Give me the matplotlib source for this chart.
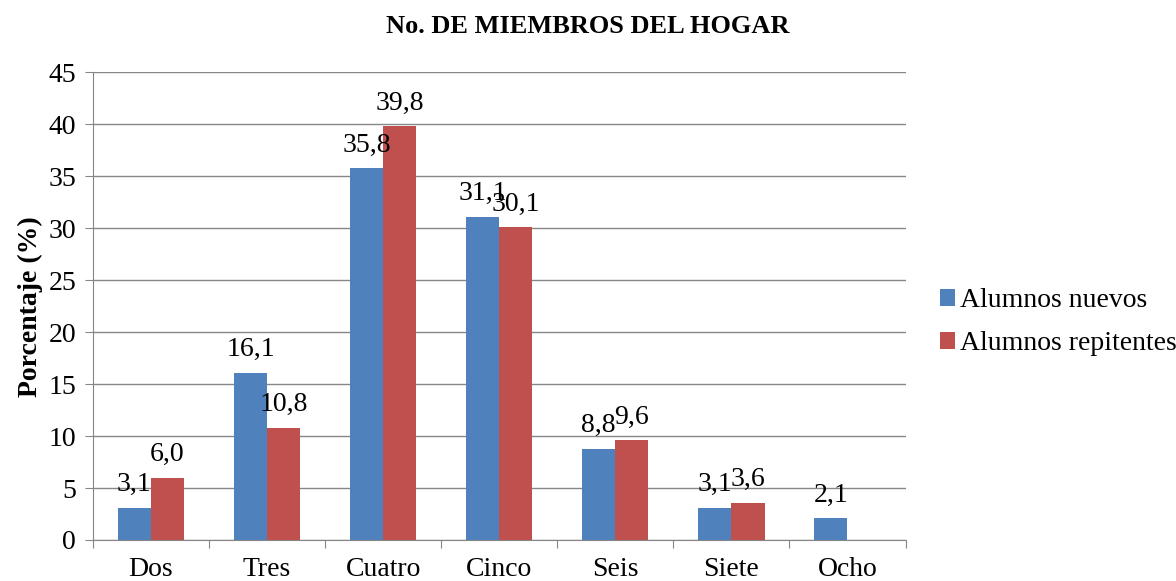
import matplotlib.pyplot as plt
import numpy as np

categorias = ["Dos", "Tres", "Cuatro", "Cinco", "Seis", "Siete", "Ocho"]
nuevos = [3.1, 16.1, 35.8, 31.1, 8.8, 3.1, 2.1]
repitentes = [6.0, 10.8, 39.8, 30.1, 9.6, 3.6, None]

plt.rcParams["font.family"] = ["Liberation Serif", "DejaVu Serif"]
fs = 20

fig = plt.figure(figsize=(11.76, 5.81), dpi=100)
ax = fig.add_axes([0.079, 0.0706, 0.691, 0.805])

x = np.arange(len(categorias))
w = 0.2857
rep_vals = [np.nan if v is None else v for v in repitentes]
b1 = ax.bar(x - w / 2, nuevos, w, color="#4F81BD", label="Alumnos nuevos", zorder=3)
b2 = ax.bar(x + w / 2, rep_vals, w, color="#C0504D", label="Alumnos repitentes", zorder=3)

for xi, v in zip(x, nuevos):
    ax.text(xi - w / 2, v + 1.0, f"{v:.1f}".replace(".", ","), ha="center", va="bottom",
            fontsize=fs, zorder=4)
for xi, v in zip(x, repitentes):
    if v is not None:
        ax.text(xi + w / 2, v + 1.0, f"{v:.1f}".replace(".", ","), ha="center", va="bottom",
                fontsize=fs, zorder=4)

ax.set_xlim(-0.5, len(categorias) - 0.5)
ax.set_ylim(0, 45)
ax.set_yticks(np.arange(0, 46, 5))
ax.yaxis.grid(True, color="#868686", linewidth=1, zorder=0)
ax.set_xticks(np.arange(-0.5, len(categorias), 1))
ax.set_xticklabels([])
ax.set_xticks(x, minor=True)
ax.set_xticklabels(categorias, minor=True)
ax.tick_params(axis="x", which="major", length=6, color="#868686")
ax.tick_params(axis="x", which="minor", length=0, labelsize=fs, pad=12)
ax.tick_params(axis="y", length=6, color="#868686", labelsize=fs, pad=6)
for s in ["top", "right"]:
    ax.spines[s].set_visible(False)
for s in ["left", "bottom"]:
    ax.spines[s].set_color("#868686")

ax.set_ylabel("Porcentaje (%)", fontsize=fs, fontweight="bold", labelpad=4)
fig.text(0.5, 0.955, "No. DE MIEMBROS DEL HOGAR", ha="center", va="center",
         fontsize=19, fontweight="bold")
fig.legend(handles=[b1, b2], loc="center left", bbox_to_anchor=(0.799, 0.445),
           frameon=False, fontsize=fs, handlelength=0.55, handleheight=0.55,
           handletextpad=0.2, labelspacing=0.65, borderaxespad=0, borderpad=0)

fig.savefig("out.png", dpi=100)
